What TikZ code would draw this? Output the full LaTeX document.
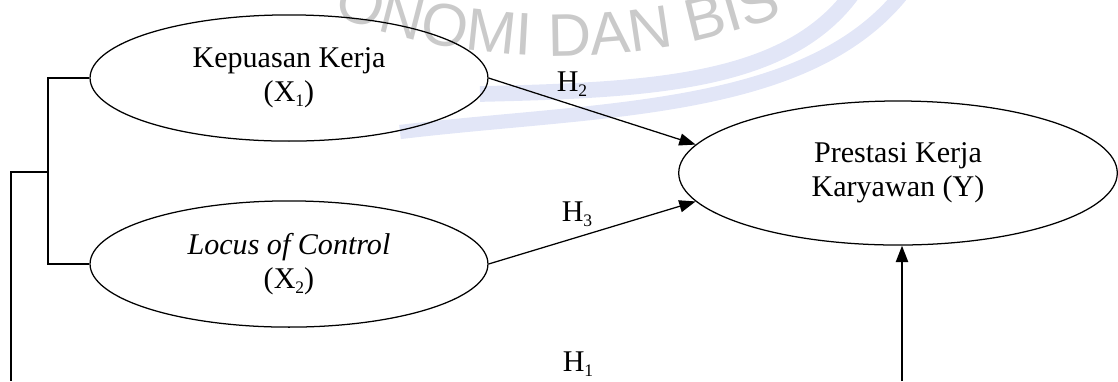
\documentclass[tikz,border=0pt]{standalone}
\usepackage{fontspec}
\setmainfont{Liberation Serif}
\newfontfamily\wmfont{Liberation Sans}
\usepackage{tikz}
\usetikzlibrary{
    positioning,
    arrows.meta,
    shapes.geometric,
    decorations.text
}
\definecolor{wmGray}{RGB}{202, 202, 202}
\definecolor{wmBlue}{RGB}{226, 230, 247}
\newcommand{\lowsub}[1]{\raisebox{-0.35ex}{\scriptsize #1}}

\begin{document}
\begin{tikzpicture}[x=0.01403cm, y=-0.01403cm, >={Triangle[length=2.3mm, width=1.7mm]},
    var/.style={ellipse, draw, line width=0.5pt, inner sep=0pt, align=center,
        font=\fontsize{12}{13.5}\selectfont},
    link/.style={->, line width=0.5pt},
    hlab/.style={inner sep=0pt, font=\fontsize{12}{13.5}\selectfont}]
    \useasboundingbox (0,0) rectangle (1118,381);

    % watermark
    \draw[wmBlue, line width=0.22cm] (480,94) .. controls (650,90) and (790,84) .. (855,-10);
    \draw[wmBlue, line width=0.2cm] (400,132) .. controls (600,108) and (810,114) .. (905,-10);
    \path[decorate, decoration={text along path, text align=center,
        text={|\wmfont\fontsize{24}{26}\selectfont\color{wmGray}|ONOMI DAN BIS}}]
        (558,-584) ++(113:640) arc[start angle=113, end angle=67, radius=640];

    % variabel
    \node[var, minimum width=5.58cm, minimum height=1.77cm] (X1) at (289,78)
        {Kepuasan Kerja\\(X\lowsub{1})};
    \node[var, minimum width=5.58cm, minimum height=1.77cm] (X2) at (289,264)
        {\textit{Locus of Control}\\(X\lowsub{2})};
    \node[var, minimum width=6.15cm, minimum height=2.02cm] (Y) at (898,173)
        {Prestasi Kerja\\Karyawan (Y)};

    % hipotesis
    \node[hlab] (H2) at (572,84) {H\lowsub{2}};
    \node[hlab] (H3) at (577,214) {H\lowsub{3}};
    \node[hlab] (H1) at (578,364) {H\lowsub{1}};

    % garis penghubung
    \coordinate (br) at (48,172);
    \coordinate (lb) at (11,381);
    \coordinate (yin) at (902,381);
    \draw[line width=0.5pt] (X1.west) -| (br) |- (X2.west);
    \draw[line width=0.8pt] (br) -| (lb);
    \draw[link] (X1.east) -- (Y.172);
    \draw[link] (X2.east) -- (Y.188);
    \draw[link, line width=0.8pt] (yin) -- (yin |- Y.south);
\end{tikzpicture}
\end{document}
